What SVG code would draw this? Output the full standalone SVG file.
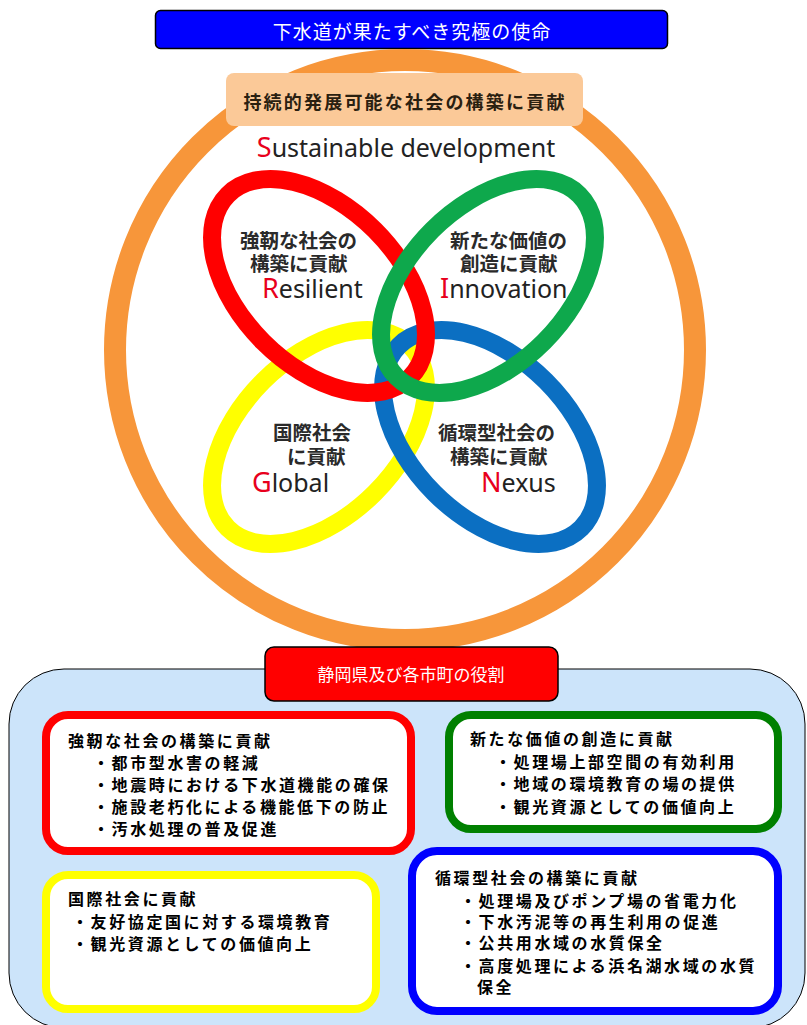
<svg xmlns="http://www.w3.org/2000/svg" width="807" height="1025" viewBox="0 0 807 1025">
<style>
.jp{font-family:"Noto Sans CJK JP","Noto Sans",sans-serif}
.en{font-family:"Noto Sans","Open Sans",sans-serif;font-size:25px;fill:#222}
.cap{fill:#e8001c;font-size:27px}
.ring{fill:none;stroke-width:18}
.rt{font-family:"Noto Sans CJK JP",sans-serif;font-size:19.5px;font-weight:700;fill:#2a2a2a}
.bt{font-family:"Noto Sans CJK JP",sans-serif;font-size:16px;font-weight:700;fill:#000;letter-spacing:2.6px}
.box{fill:#fff;stroke-width:8}
</style>
<rect width="807" height="1025" fill="#fff"/>
<g id="title">
<rect x="155.5" y="10.5" width="512" height="38" rx="5" fill="#0000ff" stroke="#000" stroke-width="1.5"/>
<text class="jp" x="412" y="39" text-anchor="middle" font-size="19" fill="#fff" letter-spacing="1">下水道が果たすべき究極の使命</text>
</g>
<g id="sustainable">
<circle cx="405" cy="350" r="290" fill="none" stroke="#f7963a" stroke-width="22"/>
<rect x="226" y="73" width="357" height="53" rx="8" fill="#fbc998"/>
<text class="jp" x="405" y="109" text-anchor="middle" font-size="18" font-weight="700" fill="#2a2010" letter-spacing="2.2">持続的発展可能な社会の構築に貢献</text>
<text class="en" x="406" y="157" text-anchor="middle"><tspan class="cap">S</tspan>ustainable development</text>
</g>
<g id="rings">
<ellipse class="ring" cx="319" cy="437" rx="129" ry="79" transform="rotate(-45 319 437)" stroke="#ffff00"/>
<ellipse class="ring" cx="490" cy="437" rx="129" ry="79" transform="rotate(45 490 437)" stroke="#0b6fc2"/>
<ellipse class="ring" cx="319" cy="286" rx="129" ry="79" transform="rotate(45 319 286)" stroke="#ff0000"/>
<ellipse class="ring" cx="488" cy="286" rx="129" ry="79" transform="rotate(-45 488 286)" stroke="#0ea84c"/>
</g>
<g id="resilient">
<text class="rt" x="240" y="248">強靭な社会の</text>
<text class="rt" x="250" y="271">構築に貢献</text>
<text class="en" x="262" y="298"><tspan class="cap">R</tspan>esilient</text>
</g>
<g id="innovation">
<text class="rt" x="450" y="248">新たな価値の</text>
<text class="rt" x="460" y="271">創造に貢献</text>
<text class="en" x="440" y="298"><tspan class="cap">I</tspan>nnovation</text>
</g>
<g id="global">
<text class="rt" x="273" y="440">国際社会</text>
<text class="rt" x="287" y="464">に貢献</text>
<text class="en" x="252" y="492"><tspan class="cap">G</tspan>lobal</text>
</g>
<g id="nexus">
<text class="rt" x="438" y="440">循環型社会の</text>
<text class="rt" x="450" y="464">構築に貢献</text>
<text class="en" x="481" y="492"><tspan class="cap">N</tspan>exus</text>
</g>
<g id="roles">
<rect x="9" y="669" width="796" height="359" rx="55" fill="#cce4fa" stroke="#000" stroke-width="1"/>
<rect x="265" y="647" width="293" height="54" rx="9" fill="#ff0000" stroke="#000" stroke-width="1.5"/>
<text class="jp" x="411" y="681" text-anchor="middle" font-size="17" fill="#fff">静岡県及び各市町の役割</text>
</g>
<g id="box-resilient">
<rect class="box" x="46" y="715" width="365" height="136" rx="22" stroke="#ff0000"/>
<text class="bt" x="68" y="747">強靭な社会の構築に貢献</text>
<text class="bt" x="93" y="769">・都市型水害の軽減</text>
<text class="bt" x="93" y="791">・地震時における下水道機能の確保</text>
<text class="bt" x="93" y="813">・施設老朽化による機能低下の防止</text>
<text class="bt" x="93" y="835">・汚水処理の普及促進</text>
</g>
<g id="box-innovation">
<rect class="box" x="449" y="715" width="329" height="114" rx="22" stroke="#008000"/>
<text class="bt" x="470" y="745">新たな価値の創造に貢献</text>
<text class="bt" x="495" y="768">・処理場上部空間の有効利用</text>
<text class="bt" x="495" y="790">・地域の環境教育の場の提供</text>
<text class="bt" x="495" y="813">・観光資源としての価値向上</text>
</g>
<g id="box-global">
<rect class="box" x="46" y="875" width="330" height="134" rx="22" stroke="#ffff00"/>
<text class="bt" x="68" y="905">国際社会に貢献</text>
<text class="bt" x="72" y="928">・友好協定国に対する環境教育</text>
<text class="bt" x="72" y="950">・観光資源としての価値向上</text>
</g>
<g id="box-nexus">
<rect class="box" x="412" y="851" width="366" height="160" rx="25" stroke="#0000ff"/>
<text class="bt" x="435" y="884">循環型社会の構築に貢献</text>
<text class="bt" x="460" y="907">・処理場及びポンプ場の省電力化</text>
<text class="bt" x="460" y="928">・下水汚泥等の再生利用の促進</text>
<text class="bt" x="460" y="949">・公共用水域の水質保全</text>
<text class="bt" x="460" y="972">・高度処理による浜名湖水域の水質</text>
<text class="bt" x="477" y="993">保全</text>
</g>
</svg>
